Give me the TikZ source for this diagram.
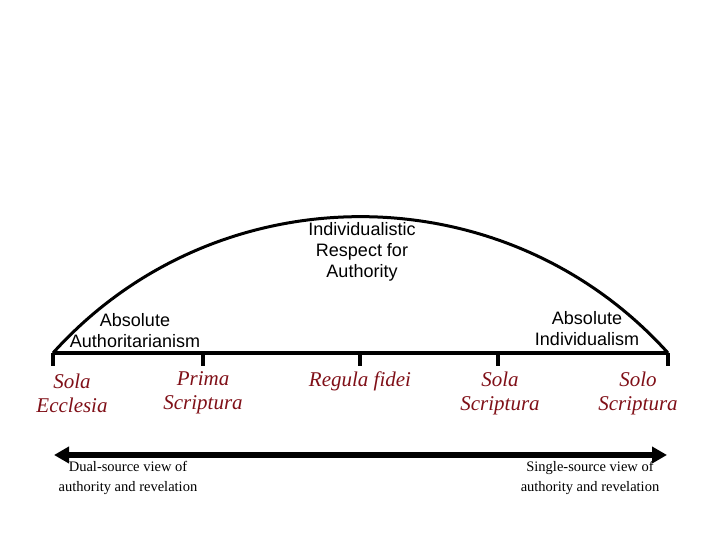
\documentclass[tikz,border=0pt]{standalone}
\usepackage{fontspec}
\setmainfont{Liberation Serif}
\newfontfamily\arialfont{Liberation Sans}
\usetikzlibrary{arrows.meta}
\definecolor{scriptred}{RGB}{128,16,24}
\tikzset{
  view/.style={font=\arialfont\fontsize{18}{21}\selectfont, align=center},
  position/.style={font=\itshape\fontsize{21}{24}\selectfont, text=scriptred, align=center},
  source/.style={font=\fontsize{14.5}{20}\selectfont, align=center}
}

\begin{document}
\begin{tikzpicture}[x=1pt, y=1pt]
    \useasboundingbox (0,0) rectangle (720,540);
    \foreach \p/\x in {ecclesia/53, prima/203, regula/360, sola/498, solo/668} {
        \coordinate (\p) at (\x,187);
        \coordinate (\p-tick) at (\x,174);
    }

    \draw[line width=3pt] (ecclesia) to[out=48, in=132, looseness=1.02] (solo);
    \draw[line width=4pt] (ecclesia) -- (solo);
    \foreach \p in {ecclesia, prima, regula, sola, solo}
        \draw[line width=4pt] (\p) -- (\p-tick);

    \node[view] (respect) at (362,288) {Individualistic\\Respect for\\Authority};
    \node[view] (authoritarian) at (135,209) {Absolute\\Authoritarianism};
    \node[view] (individual) at (587,211) {Absolute\\Individualism};

    \node[position] (ecclesia-label) at (72,147) {Sola\\Ecclesia};
    \node[position] (prima-label) at (203,147) {Prima\\Scriptura};
    \node[position] (regula-label) at (360,159) {Regula fidei};
    \node[position] (sola-label) at (500,147) {Sola\\Scriptura};
    \node[position] (solo-label) at (638,147) {Solo\\Scriptura};

    % one axis from the dual-source to the single-source end
    \coordinate (dual) at (54,85);
    \coordinate (single) at (667,85);
    \draw[line width=6pt, {Triangle[length=15pt,width=16pt]}-{Triangle[length=15pt,width=16pt]}] (dual) -- (single);
    \node[source] (dual-label) at (128,62) {Dual-source view of\\authority and revelation};
    \node[source] (single-label) at (590,62) {Single-source view of\\authority and revelation};
\end{tikzpicture}
\end{document}
